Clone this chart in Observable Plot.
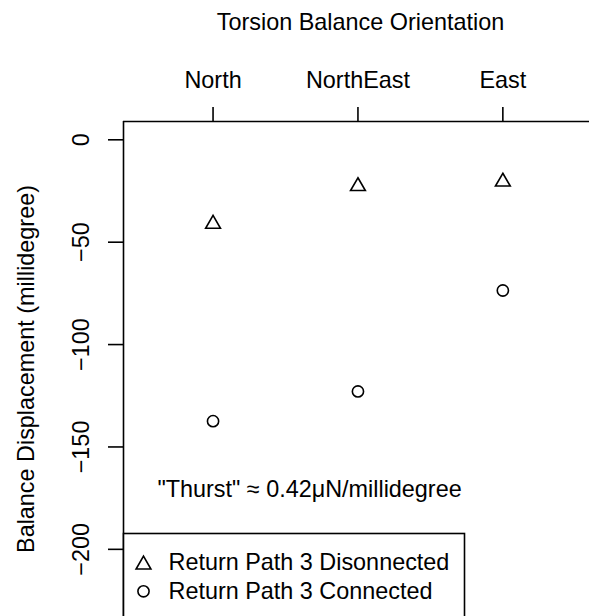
<!DOCTYPE html>
<html><head><meta charset="utf-8">
<script src="https://cdn.jsdelivr.net/npm/d3@7"></script>
<script src="https://cdn.jsdelivr.net/npm/@observablehq/plot@0.6"></script>
<style>
html,body{margin:0;padding:0;background:#fff;overflow:hidden;}
</style></head><body><div id="chart"></div>
<script>
const orientations = ["North", "NorthEast", "East"];
const disconnected = [-41.1, -22.7, -20.5];
const connected = [-137.4, -122.9, -73.6];
const yTicks = [0, -50, -100, -150, -200];
const yTickLabels = ["0", "\u221250", "\u2212100", "\u2212150", "\u2212200"];
const xTitle = "Torsion Balance Orientation";
const yTitle = "Balance Displacement (millidegree)";
const legendLabels = ["Return Path 3 Disonnected", "Return Path 3 Connected"];
const noteText = "\"Thurst\" \u2248 0.42\u03bcN/millidegree";
const noteX = 1.666, noteY = -171;

const xDomain = [0.382, 3.598];
const yDomain = [-232.8, 8.94];
const ink = "#000";
const sw = 1.6;

const rowsD = orientations.map((o, i) => ({i: i + 1, o, v: disconnected[i]}));
const rowsC = orientations.map((o, i) => ({i: i + 1, o, v: connected[i]}));

const chart = Plot.plot({
  width: 589,
  height: 616,
  marginLeft: 123,
  marginTop: 121,
  marginRight: 0,
  marginBottom: 0,
  style: {fontFamily: "'Liberation Sans', Arial, Helvetica, sans-serif", fontSize: "23.4px", color: ink, background: "#fff"},
  x: {type: "linear", domain: xDomain},
  y: {type: "linear", domain: yDomain},
  marks: [
    Plot.ruleY([yDomain[1]], {stroke: ink, strokeWidth: sw}),
    Plot.ruleX([xDomain[0]], {stroke: ink, strokeWidth: sw}),
    Plot.axisX([1, 2, 3], {anchor: "top", tickSize: 15, tickPadding: 19, tickFormat: (d) => orientations[d - 1], label: null, strokeWidth: sw, stroke: ink}),
    Plot.axisY(yTicks, {anchor: "left", tickSize: 15, tickPadding: 20, tickRotate: -90, textAnchor: "middle", lineAnchor: "bottom", tickFormat: (d) => yTickLabels[yTicks.indexOf(d)], label: null, strokeWidth: sw, stroke: ink}),
    Plot.dot(rowsD, {x: "i", y: "v", symbol: "triangle", r: 5.5, stroke: ink, strokeWidth: sw, fill: "none"}),
    Plot.dot(rowsC, {x: "i", y: "v", symbol: "circle", r: 5.6, stroke: ink, strokeWidth: sw, fill: "none"}),
    Plot.text([noteText], {x: () => noteX, y: () => noteY, text: (d) => d, textAnchor: "middle", lineAnchor: "middle", fill: ink}),
    Plot.text([xTitle], {frameAnchor: "top", text: (d) => d, dx: 4, dy: -91.5, lineAnchor: "bottom", fill: ink}),
    Plot.text([yTitle], {frameAnchor: "left", text: (d) => d, dx: -90, dy: 0, rotate: -90, textAnchor: "middle", lineAnchor: "bottom", fill: ink}),
    Plot.frame({insetTop: 412, insetRight: 125, insetBottom: -10, fill: "#fff", stroke: ink, strokeWidth: sw}),
    Plot.dot([legendLabels[0]], {frameAnchor: "bottom-left", dx: 20, dy: -51.8, symbol: "triangle", r: 5.5, stroke: ink, strokeWidth: sw, fill: "none"}),
    Plot.dot([legendLabels[1]], {frameAnchor: "bottom-left", dx: 20, dy: -25.2, symbol: "circle", r: 5.6, stroke: ink, strokeWidth: sw, fill: "none"}),
    Plot.text([legendLabels[0]], {frameAnchor: "bottom-left", text: (d) => d, dx: 45, dy: -46.7, textAnchor: "start", lineAnchor: "bottom", fill: ink}),
    Plot.text([legendLabels[1]], {frameAnchor: "bottom-left", text: (d) => d, dx: 45, dy: -17.7, textAnchor: "start", lineAnchor: "bottom", fill: ink})
  ]
});
document.getElementById("chart").appendChild(chart);
</script>
</body></html>
